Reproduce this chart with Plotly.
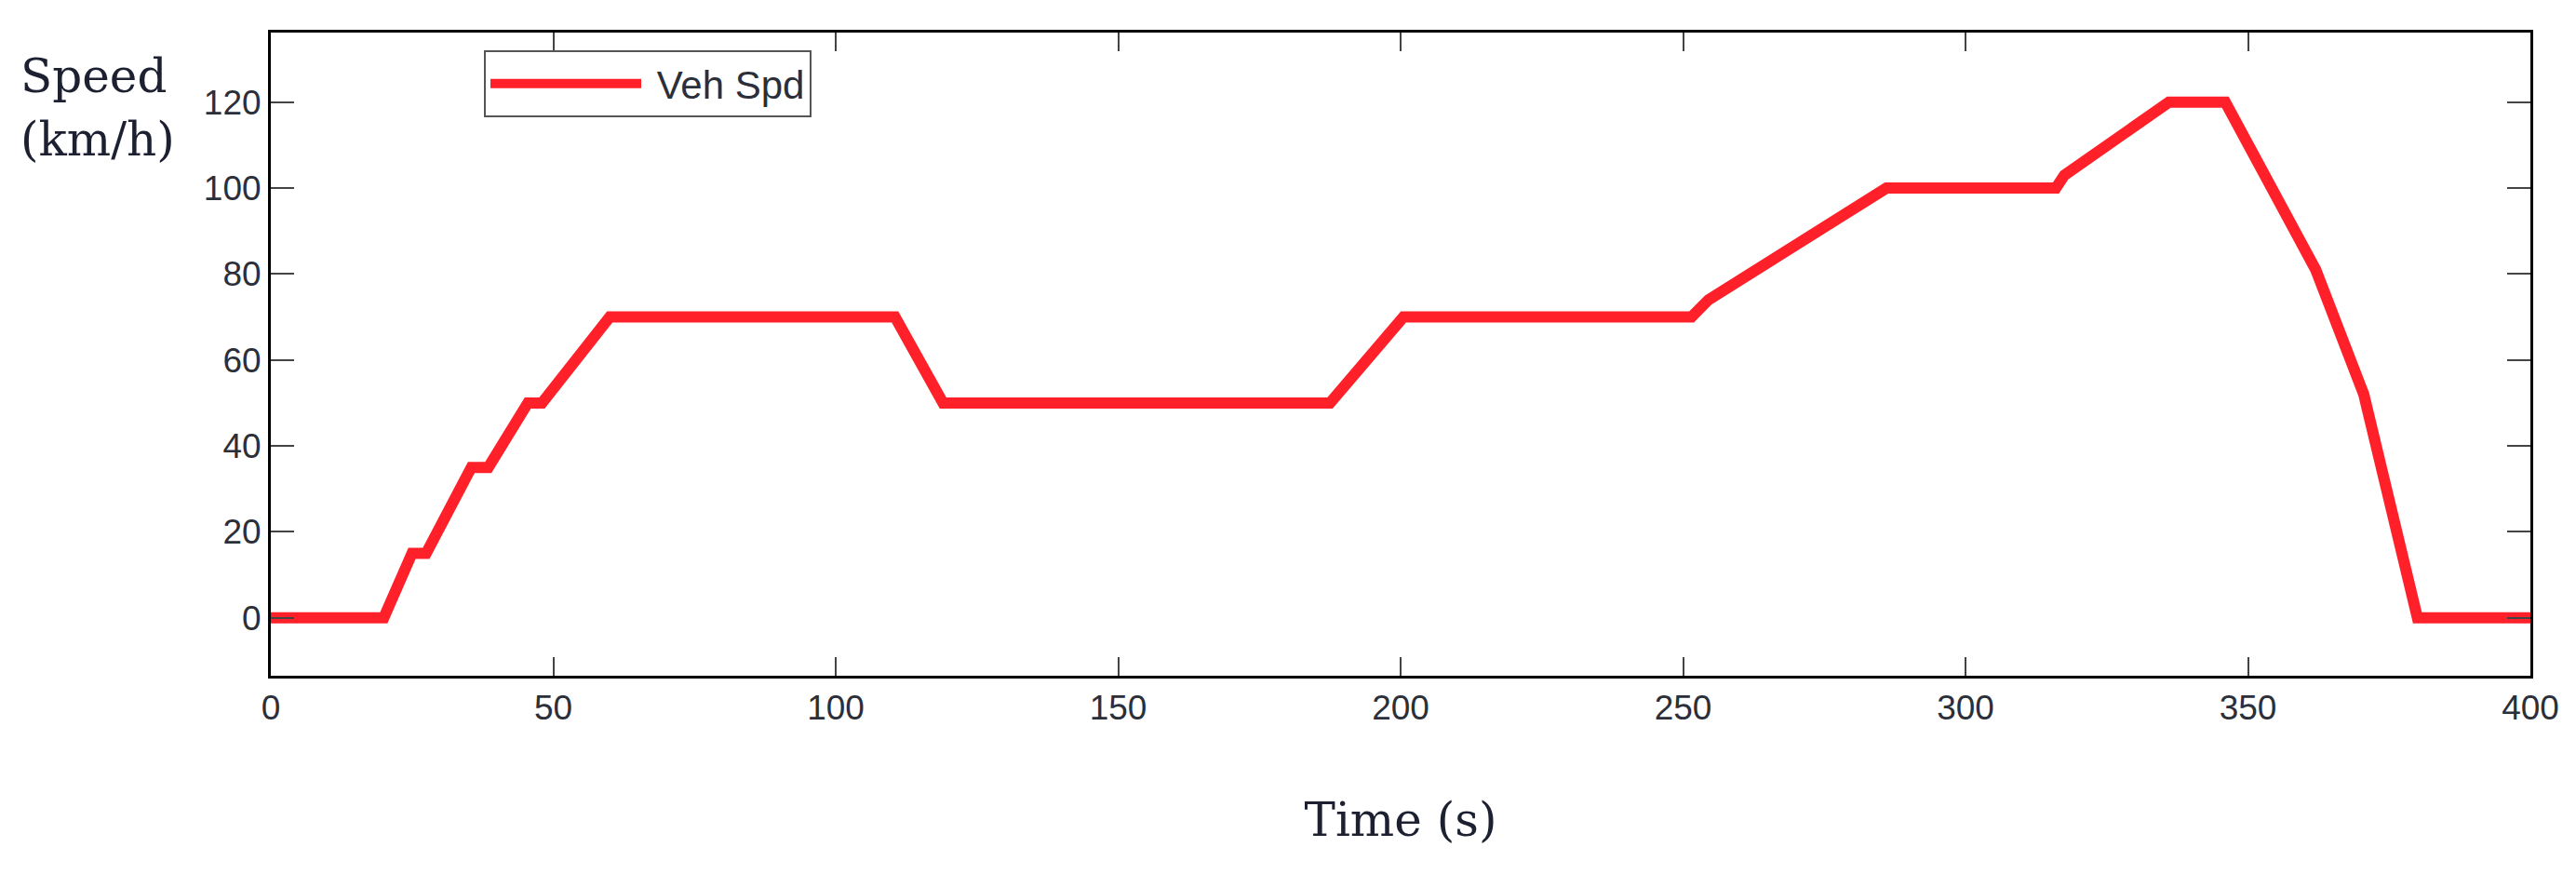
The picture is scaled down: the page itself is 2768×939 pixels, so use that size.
import plotly.graph_objects as go

# ---- data ----
time_s = [0, 20, 25, 27.5, 35.5, 38.5, 45.5, 48, 60, 110.5, 119, 187.5, 200.5,
          251.5, 254.5, 286, 316, 317.5, 336, 346, 362, 370.5, 380, 400]
speed_kmh = [0, 0, 15, 15, 35, 35, 50, 50, 70, 70, 50, 50, 70,
             70, 74, 100, 100, 103, 120, 120, 81, 52, 0, 0]
series_name = "Veh Spd"
x_ticks = [0, 50, 100, 150, 200, 250, 300, 350, 400]
y_ticks = [0, 20, 40, 60, 80, 100, 120]
x_title = "Time (s)"
y_title_lines = ["Speed", "(km/h)"]

W, H = 2768, 939
L, R, T, B = 283, 57, 27, 221
pw, ph = W - L - R, H - T - B

fig = go.Figure()
fig.add_trace(go.Scatter(
    x=time_s, y=speed_kmh, mode="lines", name="\u00a0" + series_name,
    line=dict(color="#FF2029", width=12),
))

tick_font = dict(family="Liberation Sans, Arial, sans-serif", size=37, color="#2b2f3a")
serif = "DejaVu Serif, Liberation Serif, serif"
title_color = "#1c2030"

fig.update_layout(
    width=W, height=H,
    margin=dict(l=L, r=R, t=T, b=B),
    paper_bgcolor="white", plot_bgcolor="white",
    showlegend=True,
    legend=dict(
        x=(512 - L) / pw, y=(H - B - 46) / ph, xanchor="left", yanchor="top",
        bgcolor="white", bordercolor="#555555", borderwidth=2,
        font=dict(family="Liberation Sans, Arial, sans-serif", size=42, color="#2b2f3a"),
        itemwidth=162,
    ),
    xaxis=dict(
        range=[0, 400], tickvals=x_ticks, ticktext=[str(v) for v in x_ticks],
        ticks="inside", ticklen=20, tickwidth=2, tickcolor="#444444",
        showline=True, linecolor="black", linewidth=3, mirror="ticks",
        showgrid=False, zeroline=False, tickfont=tick_font,
        title=dict(text=x_title, font=dict(family=serif, size=50, color=title_color), standoff=83),
    ),
    yaxis=dict(
        range=[-13.5, 136.2], tickvals=y_ticks, ticktext=[str(v) for v in y_ticks],
        ticks="inside", ticklen=25, tickwidth=2, tickcolor="#444444",
        showline=True, linecolor="black", linewidth=3, mirror="ticks",
        showgrid=False, zeroline=False, tickfont=tick_font,
    ),
    annotations=[
        dict(text=y_title_lines[0], xref="paper", yref="paper",
             x=(12 - L) / pw, y=(H - B - 74) / ph, xanchor="left", yanchor="middle",
             showarrow=False, font=dict(family=serif, size=50, color=title_color)),
        dict(text=y_title_lines[1], xref="paper", yref="paper",
             x=(12 - L) / pw, y=(H - B - 142) / ph, xanchor="left", yanchor="middle",
             showarrow=False, font=dict(family=serif, size=50, color=title_color)),
    ],
)

fig.write_html("out.html")
